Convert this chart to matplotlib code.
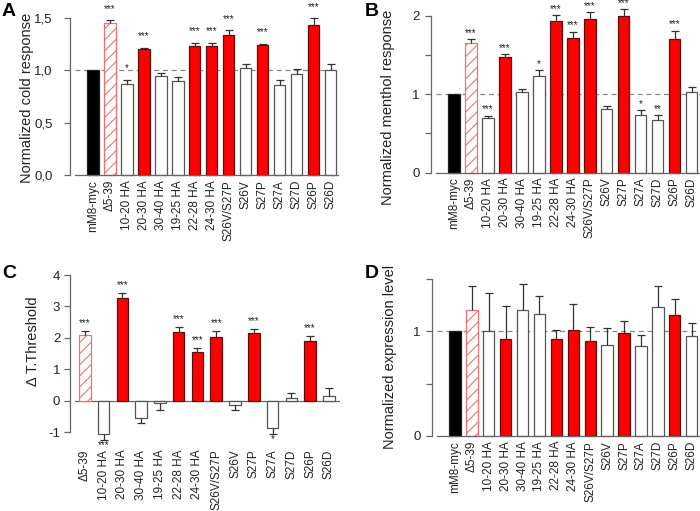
import numpy as np
import matplotlib
matplotlib.use('Agg')
import matplotlib.pyplot as plt

plt.rcParams['font.family'] = ['Liberation Sans', 'DejaVu Sans']
plt.rcParams['hatch.linewidth'] = 0.8

# data
labels = ['mM8-myc', 'Δ5-39', '10-20 HA', '20-30 HA', '30-40 HA', '19-25 HA', '22-28 HA',
          '24-30 HA', 'S26V/S27P', 'S26V', 'S27P', 'S27A', 'S27D', 'S26P', 'S26D']
kinds = ['ctrl', 'del', 'white', 'red', 'white', 'white', 'red', 'red', 'red',
         'white', 'red', 'white', 'white', 'red', 'white']

cold_mean = [1.0, 1.445, 0.872, 1.198, 0.943, 0.895, 1.23, 1.23, 1.336, 1.023, 1.237, 0.86, 0.965, 1.435, 1.0]
cold_err = [0, 0.03, 0.038, 0.017, 0.025, 0.038, 0.032, 0.032, 0.047, 0.035, 0.016, 0.05, 0.042, 0.061, 0.061]
cold_stars = ['', '***', '*', '***', '', '', '***', '***', '***', '', '***', '', '', '***', '']

menthol_mean = [1.0, 1.648, 0.693, 1.47, 1.024, 1.232, 1.932, 1.72, 1.954, 0.807, 2.0, 0.739, 0.671, 1.699, 1.024]
menthol_err = [0, 0.052, 0.033, 0.038, 0.042, 0.076, 0.077, 0.076, 0.089, 0.047, 0.08, 0.06, 0.06, 0.111, 0.072]
menthol_stars = ['', '***', '***', '***', '', '*', '***', '***', '***', '', '***', '*', '**', '***', '']

thr_labels = labels[1:]
thr_kinds = kinds[1:]
thr_mean = [2.095, -1.06, 3.26, -0.53, -0.075, 2.2, 1.555, 2.04, -0.127, 2.15, -0.85, 0.085, 1.91, 0.16]
thr_err = [0.125, 0.18, 0.16, 0.16, 0.215, 0.16, 0.115, 0.18, 0.163, 0.13, 0.2, 0.175, 0.16, 0.24]
thr_stars = ['***', '***', '***', '', '', '***', '***', '***', '', '***', '*', '', '***', '']

expr_mean = [1.0, 1.2, 1.0, 0.924, 1.2, 1.168, 0.924, 1.016, 0.911, 0.867, 0.984, 0.864, 1.231, 1.152, 0.952]
expr_err = [0, 0.23, 0.365, 0.316, 0.254, 0.165, 0.092, 0.248, 0.127, 0.162, 0.114, 0.104, 0.199, 0.159, 0.13]
expr_stars = [''] * 15

face = {'ctrl': 'black', 'del': 'white', 'white': 'white', 'red': '#ff0000'}
edge = {'ctrl': '#222222', 'del': '#f07070', 'white': '#555555', 'red': '#5a1010'}
AX_COL = '#666666'
TXT_COL = '#222222'


def draw_panel(ax, names, kind, mean, err, stars, ylim, yticks, yticklabels, xlim,
               width=0.67, dashed=True, zero_axis=False, xpad=3.6, ypad=3.5, star_off=3):
    x = np.arange(len(names))
    mean = np.array(mean, dtype=float)
    err = np.array(err, dtype=float)
    if dashed:
        ax.axhline(1, color='#888888', lw=0.9, ls=(0, (4, 3)), zorder=0.5)
    bars = ax.bar(x, mean, width=width, color=[face[k] for k in kind],
                  edgecolor=[edge[k] for k in kind], linewidth=0.9, zorder=2)
    for b, k in zip(bars, kind):
        b.set_clip_on(False)
        if k == 'del':
            b.set_hatch('///')
    sign = np.where(mean >= 0, 1, -1)
    tips = mean + sign * err
    m = err > 0
    ax.vlines(x[m], mean[m], tips[m], color='#333333', lw=0.9, zorder=3, clip_on=False)
    ax.plot(x[m], tips[m], ls='none', marker='_', ms=6, mew=0.9, color='#333333', zorder=3,
            clip_on=False)
    for xi, t, s, sg in zip(x, tips, stars, sign):
        if s:
            if sg > 0:
                ax.annotate(s, (xi, t), xytext=(0, star_off), textcoords='offset points', ha='center',
                            va='bottom', fontsize=7, color=TXT_COL, annotation_clip=False)
            else:
                ax.annotate(s, (xi, t), xytext=(0, 0), textcoords='offset points', ha='center',
                            va='top', fontsize=7, color=TXT_COL, annotation_clip=False)
    ax.set_xlim(*xlim)
    ax.set_ylim(*ylim)
    ax.set_yticks(yticks)
    ax.set_yticklabels(yticklabels)
    ax.set_xticks(x)
    ax.set_xticklabels(names, rotation=90, fontsize=8.5, color=TXT_COL)
    ax.tick_params(axis='x', length=0, pad=xpad)
    ax.tick_params(axis='y', length=4.5, width=0.9, color=AX_COL, labelsize=9.5,
                   labelcolor=TXT_COL, pad=ypad)
    for s in ['top', 'right']:
        ax.spines[s].set_visible(False)
    ax.spines['left'].set_color(AX_COL)
    ax.spines['left'].set_linewidth(0.9)
    ax.spines['left'].set_position(('outward', 3.6))
    if zero_axis:
        ax.spines['bottom'].set_visible(False)
        ax.axhline(0, color=AX_COL, lw=0.9, zorder=1)
    else:
        ax.spines['bottom'].set_color(AX_COL)
        ax.spines['bottom'].set_linewidth(0.9)


W, H = 700, 511
fig = plt.figure(figsize=(7, 5.11), dpi=100)


def px_axes(l, t, r, b):
    return fig.add_axes([l / W, 1 - b / H, (r - l) / W, (b - t) / H])


axA = px_axes(75, 17.7, 338, 175)
draw_panel(axA, labels, kinds, cold_mean, cold_err, cold_stars, (0, 1.5),
           [0, 0.5, 1, 1.5], ['0,0', '0,5', '1,0', '1,5'], (-1.06, 14.44), ypad=8, star_off=4.5)

axB = px_axes(436, 15.7, 700, 172.7)
draw_panel(axB, labels, kinds, menthol_mean, menthol_err, menthol_stars, (0, 2),
           [0, 0.5, 1, 1.5, 2], ['0', '', '1', '', '2'], (-1.06, 14.49), star_off=1)

axC = px_axes(75, 275, 340, 432.3)
draw_panel(axC, thr_labels, thr_kinds, thr_mean, thr_err, thr_stars, (-1, 4),
           [-1, 0, 1, 2, 3, 4], ['-1', '0', '1', '2', '3', '4'], (-0.52, 13.59),
           width=0.62, dashed=False, zero_axis=True, xpad=12.5, ypad=2.5, star_off=2)

axD = px_axes(437, 279, 700, 436)
draw_panel(axD, labels, kinds, expr_mean, expr_err, expr_stars, (0, 1.5),
           [0, 0.5, 1, 1.5], ['0', '', '1', ''], (-1.06, 14.49))

# y labels and panel letters
fig.text(27 / W, 1 - 97.5 / H, 'Normalized cold response', rotation=90, ha='center', va='center',
         fontsize=10.5, color=TXT_COL)
fig.text(388 / W, 1 - 107 / H, 'Normalized menthol response', rotation=90, ha='center', va='center',
         fontsize=10.5, color=TXT_COL)
fig.text(33 / W, 1 - 341 / H, 'Δ T.Threshold', rotation=90, ha='center', va='center',
         fontsize=10.5, color=TXT_COL)
fig.text(390 / W, 1 - 357 / H, 'Normalized expression level', rotation=90, ha='center', va='center',
         fontsize=10.5, color=TXT_COL)

for letter, lx, ly in [('A', 2, 3), ('B', 365, 3), ('C', 2, 265), ('D', 365, 265)]:
    fig.text(lx / W, 1 - ly / H, letter, ha='left', va='top', fontsize=14, fontweight='bold', color='black')

fig.savefig('out.png', dpi=100)
